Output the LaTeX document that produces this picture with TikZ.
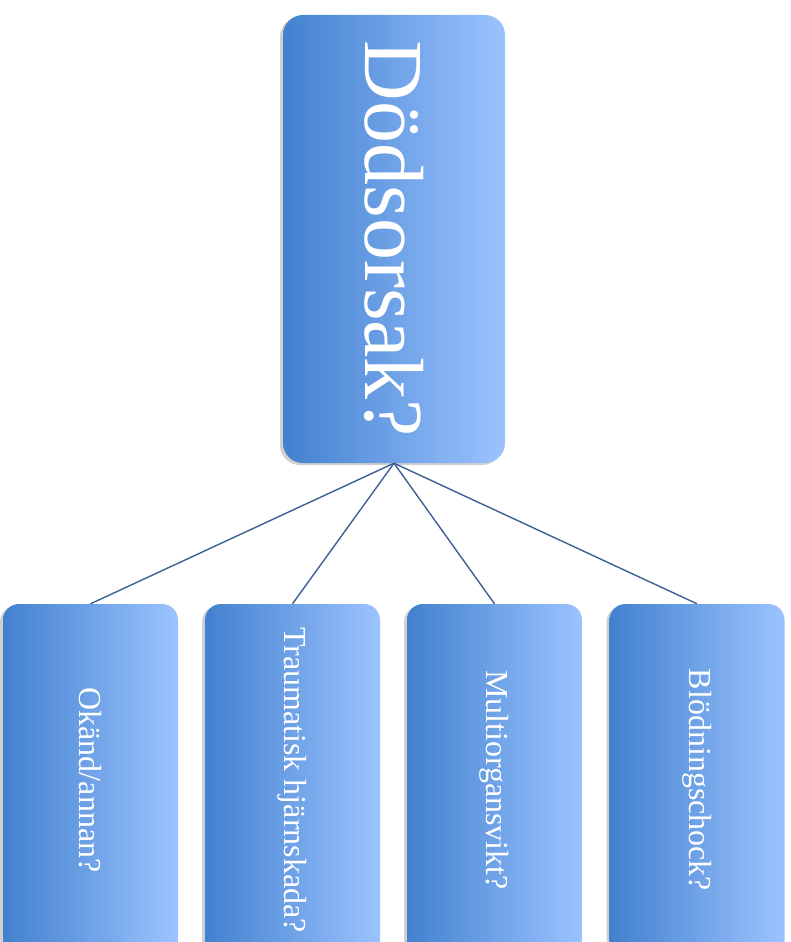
\documentclass[tikz,border=0pt]{standalone}
\usepackage{fontspec}
\setmainfont{Liberation Serif}
\usetikzlibrary{positioning,shadows}
\definecolor{boxdark}{HTML}{4281CF}
\definecolor{boxlight}{HTML}{9CC3FF}
\definecolor{linkblue}{HTML}{3E6194}

\begin{document}
\begin{tikzpicture}[x=1pt,y=-1pt,
	causebox/.style={rounded corners=16pt, left color=boxdark, right color=boxlight,
		draw=none, inner sep=0pt,
		drop shadow={shadow xshift=-3pt, shadow yshift=-2pt, opacity=0.3, fill=black!60}},
	causetext/.style={rotate=-90, text=white, inner sep=0pt},
	link/.style={draw=linkblue, line width=1.4pt}]

	\clip (0,0) rectangle (791,942);
	\fill[white] (0,0) rectangle (791,942);

	% top box
	\node[causebox, rounded corners=20pt, minimum width=222pt, minimum height=448pt] (cause) at (394,239) {};
	\node[causetext, font=\fontsize{84}{84}\selectfont] (cause-t) at (cause.center) {Dödsorsak?};

	% bottom boxes
	\node[causebox, minimum width=175pt, minimum height=352pt] (unknown) at (90.5,780) {};
	\node[causebox, minimum width=175pt, minimum height=352pt] (brain) at (292.5,780) {};
	\node[causebox, minimum width=175pt, minimum height=352pt] (organ) at (494.5,780) {};
	\node[causebox, minimum width=175pt, minimum height=352pt] (bleed) at (697,780) {};

	\node[causetext, font=\fontsize{32}{32}\selectfont] (unknown-t) at (unknown.center) {Okänd/annan?};
	\node[causetext, font=\fontsize{32}{32}\selectfont] (brain-t) at (brain.center) {Traumatisk hjärnskada?};
	\node[causetext, font=\fontsize{32}{32}\selectfont] (organ-t) at (organ.center) {Multiorgansvikt?};
	\node[causetext, font=\fontsize{32}{32}\selectfont] (bleed-t) at (bleed.center) {Blödningschock?};

	\foreach \n in {unknown,brain,organ,bleed}
		\draw[link] (cause.south) -- (\n.north);
\end{tikzpicture}
\end{document}
